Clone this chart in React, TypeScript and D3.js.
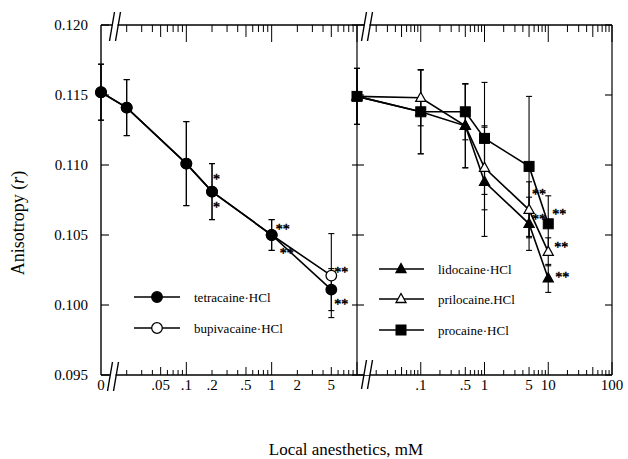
import React from 'react';
import * as d3 from 'd3';

// ---------- data ----------
const leftConc = [0, 0.02, 0.1, 0.2, 1, 5];
const tetracaine = [0.1152, 0.1141, 0.1101, 0.1081, 0.105, 0.1011];
const tetracaineErr = [0.002, 0.002, 0.003, 0.002, 0.0011, 0.0015];
const bupivacaine = [0.1152, 0.1141, 0.1101, 0.1081, 0.105, 0.1021];
const bupivacaineErr = [0.002, 0.002, 0.003, 0.002, 0.0011, 0.003];

const rightConc = [0, 0.1, 0.5, 1, 5, 10];
const lidocaine = [0.1149, 0.1138, 0.1128, 0.1088, 0.1058, 0.1019];
const lidocaineErr = [0.002, 0.003, 0.003, 0.0039, 0.0019, 0.001];
const prilocaine = [0.1149, 0.1148, 0.1128, 0.1098, 0.1068, 0.1038];
const prilocaineErr = [0.002, 0.002, 0.003, 0.003, 0.002, 0.001];
const procaine = [0.1149, 0.1138, 0.1138, 0.1119, 0.1099, 0.1058];
const procaineErr = [0.002, 0.003, 0.002, 0.004, 0.005, 0.002];

const yTickValues = [0.095, 0.1, 0.105, 0.11, 0.115, 0.12];
const yTickLabels = ['0.095', '0.100', '0.105', '0.110', '0.115', '0.120'];
const leftTickValues = [0, 0.05, 0.1, 0.2, 0.5, 1, 2, 5];
const leftTickLabels = ['0', '.05', '.1', '.2', '.5', '1', '2', '5'];
const rightTickValues = [0.1, 0.5, 1, 5, 10, 100];
const rightTickLabels = ['.1', '.5', '1', '5', '10', '100'];

const leftNames = ['tetracaine·HCl', 'bupivacaine·HCl'];
const rightNames = ['lidocaine·HCl', 'prilocaine.HCl', 'procaine·HCl'];

// annotations: series key, concentration, text, offsets
const annotations = [
  { s: 'tetracaine', x: 0.2, t: '*', dx: 1, dy: -8 },
  { s: 'tetracaine', x: 0.2, t: '*', dx: 1, dy: 20 },
  { s: 'tetracaine', x: 1, t: '**', dx: 4, dy: -1 },
  { s: 'bupivacaine', x: 1, t: '**', dx: 8, dy: 23 },
  { s: 'bupivacaine', x: 5, t: '**', dx: 3, dy: 1 },
  { s: 'tetracaine', x: 5, t: '**', dx: 3, dy: 19 },
  { s: 'procaine', x: 5, t: '**', dx: 3, dy: 33 },
  { s: 'prilocaine', x: 5, t: '**', dx: 3, dy: 14 },
  { s: 'procaine', x: 10, t: '**', dx: 4, dy: -5 },
  { s: 'prilocaine', x: 10, t: '**', dx: 6, dy: 0 },
  { s: 'lidocaine', x: 10, t: '**', dx: 7, dy: 4 },
];

// ---------- layout ----------
const W = 628, H = 459;
const plotLeft = 101, plotRight = 612, plotTop = 25, plotBottom = 375, divider = 357;
const FONT = '"Liberation Serif", "Times New Roman", serif';

const y = d3.scaleLinear().domain([0.095, 0.12]).range([plotBottom, plotTop]);
const xL = d3.scaleLog().domain([0.01, 10]).range([plotLeft, divider]);
const xR = d3.scaleLog().domain([0.01, 100]).range([divider, plotRight]);
const px = (s: any, v: number) => (v === 0 ? s.range()[0] : s(v));

type Series = { key: string; name: string; scale: any; xs: number[]; ys: number[]; err: number[]; marker: string; fill: string };
// drawing order: open markers first so the filled ones stay on top
const series: Series[] = [
  { key: 'bupivacaine', name: leftNames[1], scale: xL, xs: leftConc, ys: bupivacaine, err: bupivacaineErr, marker: 'circle', fill: '#fff' },
  { key: 'tetracaine', name: leftNames[0], scale: xL, xs: leftConc, ys: tetracaine, err: tetracaineErr, marker: 'circle', fill: '#000' },
  { key: 'prilocaine', name: rightNames[1], scale: xR, xs: rightConc, ys: prilocaine, err: prilocaineErr, marker: 'triangle', fill: '#fff' },
  { key: 'lidocaine', name: rightNames[0], scale: xR, xs: rightConc, ys: lidocaine, err: lidocaineErr, marker: 'triangle', fill: '#000' },
  { key: 'procaine', name: rightNames[2], scale: xR, xs: rightConc, ys: procaine, err: procaineErr, marker: 'square', fill: '#000' },
];
const byKey: Record<string, Series> = {};
series.forEach((s) => (byKey[s.key] = s));

function logTicks(lo: number, hi: number) {
  const out: { v: number; kind: string }[] = [];
  const e0 = Math.round(Math.log10(lo));
  const e1 = Math.round(Math.log10(hi));
  for (let e = e0; e < e1; e++) {
    for (let m = 1; m < 10; m++) {
      const v = +(m * Math.pow(10, e)).toPrecision(6);
      if (v > lo * 1.001) out.push({ v, kind: m === 1 ? 'major' : m === 5 ? 'mid' : 'minor' });
    }
  }
  out.push({ v: hi, kind: 'major' });
  return out;
}

function Marker({ type, cx, cy, fill }: { type: string; cx: number; cy: number; fill: string }) {
  if (type === 'circle') return <circle cx={cx} cy={cy} r={5.3} fill={fill} stroke="#000" strokeWidth={1.3} />;
  if (type === 'square') return <rect x={cx - 5} y={cy - 5} width={10} height={10} fill={fill} stroke="#000" strokeWidth={1} />;
  return <path d={`M${cx},${cy - 5.5}L${cx + 5},${cy + 3.5}L${cx - 5},${cy + 3.5}Z`} fill={fill} stroke="#000" strokeWidth={1.3} />;
}

function BreakMark({ cx, cy }: { cx: number; cy: number }) {
  return (
    <g>
      <rect x={cx - 2.5} y={cy - 2} width={5} height={4} fill="#fff" />
      <line x1={cx - 5.5} y1={cy + 16} x2={cx - 0.5} y2={cy - 13} stroke="#000" strokeWidth={1.4} />
      <line x1={cx + 0.5} y1={cy + 16} x2={cx + 5.5} y2={cy - 13} stroke="#000" strokeWidth={1.4} />
    </g>
  );
}

export default function App() {
  const line = (s: Series) =>
    d3.line<number>()
      .x((_, i) => px(s.scale, s.xs[i]))
      .y((v) => y(v))(s.ys) as string;

  const tickLen = { top: { major: 17, mid: 12, minor: 7 }, bottom: { major: 13, mid: 8, minor: 5 } } as any;
  const xTicks = [
    ...logTicks(0.01, 10).map((t) => ({ ...t, x: xL(t.v) })),
    ...logTicks(0.01, 100).map((t) => ({ ...t, x: xR(t.v) })),
  ];

  const legendLeft = [
    { s: byKey.tetracaine, y: 297 },
    { s: byKey.bupivacaine, y: 328 },
  ];
  const legendRight = [
    { s: byKey.lidocaine, y: 269 },
    { s: byKey.prilocaine, y: 299 },
    { s: byKey.procaine, y: 330 },
  ];

  return (
    <svg width={W} height={H} style={{ position: 'absolute', left: 0, top: 0, background: '#fff' }} fontFamily={FONT}>
      <rect width={W} height={H} fill="#fff" />
      {/* frame */}
      <g stroke="#000" fill="none">
        <line x1={plotLeft} y1={plotTop} x2={plotRight} y2={plotTop} strokeWidth={1.3} />
        <line x1={plotLeft} y1={plotBottom} x2={plotRight} y2={plotBottom} strokeWidth={1.3} />
        <line x1={plotLeft} y1={plotTop} x2={plotLeft} y2={plotBottom} strokeWidth={1.4} />
        <line x1={divider} y1={plotTop} x2={divider} y2={plotBottom} strokeWidth={1.2} />
        <line x1={plotRight} y1={plotTop} x2={plotRight} y2={plotBottom} strokeWidth={1.2} />
      </g>
      {/* x ticks */}
      <g stroke="#000" strokeWidth={1}>
        {xTicks.map((t, i) => (
          <g key={i}>
            <line x1={t.x} x2={t.x} y1={plotTop} y2={plotTop + tickLen.top[t.kind]} />
            <line x1={t.x} x2={t.x} y1={plotBottom} y2={plotBottom - tickLen.bottom[t.kind]} />
          </g>
        ))}
      </g>
      {/* y ticks */}
      <g stroke="#000" strokeWidth={1.1}>
        {yTickValues.map((v, i) => (
          <g key={i}>
            <line x1={plotLeft} x2={plotLeft + 8} y1={y(v)} y2={y(v)} />
            <line x1={divider - 5} x2={divider + 7} y1={y(v)} y2={y(v)} />
            <line x1={plotRight - 7} x2={plotRight} y1={y(v)} y2={y(v)} />
          </g>
        ))}
      </g>
      {/* y tick labels */}
      <g fontSize={15} textAnchor="end" fill="#000">
        {yTickValues.map((v, i) => (
          <text key={i} x={88} y={y(v) + 5}>{yTickLabels[i]}</text>
        ))}
      </g>
      {/* x tick labels */}
      <g fontSize={15} textAnchor="middle" fill="#000">
        {leftTickValues.map((v, i) => (
          <text key={'l' + i} x={px(xL, v)} y={390}>{leftTickLabels[i]}</text>
        ))}
        {rightTickValues.map((v, i) => (
          <text key={'r' + i} x={px(xR, v)} y={390}>{rightTickLabels[i]}</text>
        ))}
      </g>
      {/* breaks */}
      <BreakMark cx={plotLeft + 14} cy={plotTop} />
      <BreakMark cx={plotLeft + 12} cy={plotBottom} />
      <BreakMark cx={divider + 10} cy={plotTop} />
      <BreakMark cx={divider + 10} cy={plotBottom - 2} />
      {/* lines */}
      <g fill="none" stroke="#000" strokeWidth={1.6}>
        {series.map((s) => <path key={s.key} d={line(s)} />)}
      </g>
      {/* error bars */}
      <g stroke="#000" strokeWidth={1.1}>
        {series.map((s) =>
          s.ys.map((v, i) => {
            const cx = px(s.scale, s.xs[i]);
            const y1 = y(v + s.err[i]);
            const y2 = y(v - s.err[i]);
            return (
              <g key={s.key + i}>
                <line x1={cx} x2={cx} y1={y1} y2={y2} />
                <line x1={cx - 3} x2={cx + 3} y1={y1} y2={y1} />
                <line x1={cx - 3} x2={cx + 3} y1={y2} y2={y2} />
              </g>
            );
          })
        )}
      </g>
      {/* markers */}
      {series.map((s) =>
        s.ys.map((v, i) => (
          <Marker key={s.key + 'm' + i} type={s.marker} cx={px(s.scale, s.xs[i])} cy={y(v)} fill={s.fill} />
        ))
      )}
      {/* annotations */}
      <g fontSize={14} fill="#000" stroke="#000" strokeWidth={0.5}>
        {annotations.map((a, i) => {
          const s = byKey[a.s];
          const idx = s.xs.indexOf(a.x);
          return (
            <text key={i} x={px(s.scale, a.x) + a.dx} y={y(s.ys[idx]) + a.dy}>{a.t}</text>
          );
        })}
      </g>
      {/* legends */}
      {legendLeft.map((l, i) => (
        <g key={'ll' + i}>
          <line x1={134} x2={180} y1={l.y} y2={l.y} stroke="#000" strokeWidth={1.6} />
          <Marker type={l.s.marker} cx={157} cy={l.y} fill={l.s.fill} />
          <text x={194} y={l.y + 5} fontSize={13} fill="#000">{l.s.name}</text>
        </g>
      ))}
      {legendRight.map((l, i) => (
        <g key={'lr' + i}>
          <line x1={379} x2={424} y1={l.y} y2={l.y} stroke="#000" strokeWidth={1.6} />
          <Marker type={l.s.marker} cx={401} cy={l.y} fill={l.s.fill} />
          <text x={438} y={l.y + 5} fontSize={13} fill="#000">{l.s.name}</text>
        </g>
      ))}
      {/* axis titles */}
      <text transform={`translate(24,223) rotate(-90)`} textAnchor="middle" fontSize={18} fill="#000">
        Anisotropy (<tspan fontStyle="italic">r</tspan>)
      </text>
      <text x={346} y={455} textAnchor="middle" fontSize={17} fill="#000">Local anesthetics, mM</text>
    </svg>
  );
}
